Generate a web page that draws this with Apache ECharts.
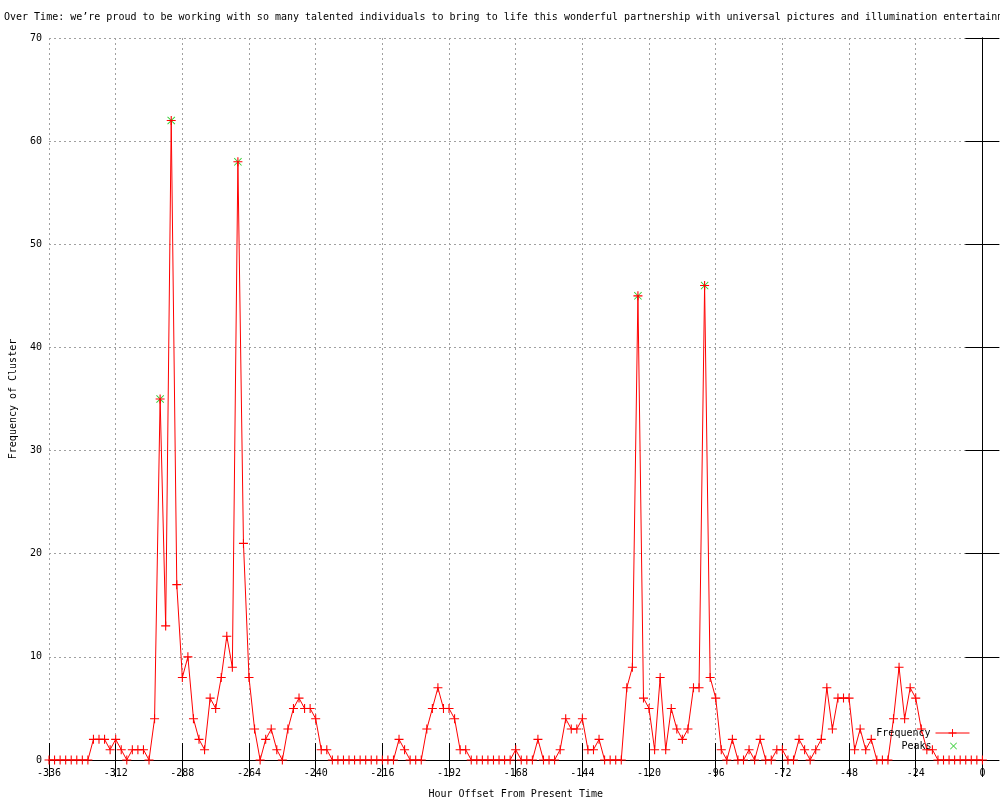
<!DOCTYPE html>
<html>
<head>
<meta charset="utf-8">
<script src="https://cdn.jsdelivr.net/npm/echarts@6/dist/echarts.min.js"></script>
<style>
html,body{margin:0;padding:0;background:#fff;}
#chart{width:1000px;height:800px;}
</style>
</head>
<body>
<div id="chart"></div>
<script>
// ---- data ----
const titleText = "Over Time: we\u2019re proud to be working with so many talented individuals to bring to life this wonderful partnership with universal pictures and illumination entertainm";
const xAxisName = "Hour Offset From Present Time";
const yAxisName = "Frequency of Cluster";
const hourStart = -336;   // first sample hour
const hourStep = 2;       // sampling interval (hours)
const frequency = [
  0,0,0,0,0,0,0,0,2,2,          // -336 .. -318
  2,1,2,1,0,1,1,1,0,4,          // -316 .. -298
  35,13,62,17,8,10,4,2,1,6,     // -296 .. -278
  5,8,12,9,58,21,8,3,0,2,       // -276 .. -258
  3,1,0,3,5,6,5,5,4,1,          // -256 .. -238
  1,0,0,0,0,0,0,0,0,0,          // -236 .. -218
  0,0,0,2,1,0,0,0,3,5,          // -216 .. -198
  7,5,5,4,1,1,0,0,0,0,          // -196 .. -178
  0,0,0,0,1,0,0,0,2,0,          // -176 .. -158
  0,0,1,4,3,3,4,1,1,2,          // -156 .. -138
  0,0,0,0,7,9,45,6,5,1,         // -136 .. -118
  8,1,5,3,2,3,7,7,46,8,         // -116 .. -98
  6,1,0,2,0,0,1,0,2,0,          // -96 .. -78
  0,1,1,0,0,2,1,0,1,2,          // -76 .. -58
  7,3,6,6,6,1,3,1,2,0,          // -56 .. -38
  0,0,4,9,4,7,6,3,1,1,          // -36 .. -18
  0,0,0,0,0,0,0,0,0             // -16 .. 0
];
const peakHours = [-296, -292, -268, -124, -100];
const peakValues = [35, 62, 58, 45, 46];
const xTicks = { min: -336, max: 0, interval: 24 };
const yTicks = { min: 0, max: 70, interval: 10 };

// ---- build ----
const freqData = frequency.map((v, i) => [hourStart + i * hourStep, v]);
const peakData = peakHours.map((h, i) => [h, peakValues[i]]);

const FONT = "DejaVu Sans Mono";
const plusPath = 'path://M4.4,0H5.6V4.4H10V5.6H5.6V10H4.4V5.6H0V4.4H4.4Z';
const crossPath = 'path://M0,0.8L0.8,0L5,4.2L9.2,0L10,0.8L5.8,5L10,9.2L9.2,10L5,5.8L0.8,10L0,9.2L4.2,5Z';
const gridLine = { show: true, lineStyle: { color: '#a0a0a0', type: [2, 3], width: 1 } };
const axisLineStyle = { show: true, lineStyle: { color: '#000', width: 1 } };
const tickStyle = { show: true, inside: true, length: 17, lineStyle: { color: '#000', width: 1 } };

const chart = echarts.init(document.getElementById('chart'), null, { renderer: 'canvas' });
chart.setOption({
  animation: false,
  backgroundColor: '#fff',
  textStyle: { fontFamily: FONT, fontSize: 10, color: '#000' },
  title: {
    text: titleText,
    left: 4, top: 12, padding: 0,
    textStyle: { fontFamily: FONT, fontSize: 10, fontWeight: 'normal', color: '#000' }
  },
  grid: { left: 49, right: 17.6, top: 38, bottom: 40, containLabel: false, outerBoundsMode: 'none' },
  legend: [
    {
      data: ['Frequency'], right: 30, top: 728, orient: 'vertical', align: 'right', padding: 0,
      itemWidth: 34, itemHeight: 10,
      lineStyle: { width: 1 },
      textStyle: { fontFamily: FONT, fontSize: 10, color: '#000' }
    },
    {
      data: ['Peaks'], right: 43, top: 741, orient: 'vertical', align: 'right', padding: 0,
      itemWidth: 34, itemHeight: 7,
      textStyle: { fontFamily: FONT, fontSize: 10, color: '#000' }
    }
  ],
  xAxis: [
    {
      type: 'value', position: 'bottom', min: xTicks.min, max: xTicks.max, interval: xTicks.interval,
      name: xAxisName, nameLocation: 'middle', nameGap: 29,
      nameTextStyle: { fontFamily: FONT, fontSize: 10, color: '#000' },
      axisLine: axisLineStyle, axisTick: tickStyle, splitLine: gridLine,
      axisLabel: { fontFamily: FONT, fontSize: 10, color: '#000', margin: 8 }
    },
    {
      type: 'value', position: 'top', min: xTicks.min, max: xTicks.max, interval: xTicks.interval,
      axisLine: axisLineStyle, axisTick: tickStyle, splitLine: { show: false },
      axisLabel: { show: false }
    }
  ],
  yAxis: [
    {
      type: 'value', position: 'left', min: yTicks.min, max: yTicks.max, interval: yTicks.interval,
      name: yAxisName, nameLocation: 'middle', nameGap: 31, nameRotate: 90,
      nameTextStyle: { fontFamily: FONT, fontSize: 10, color: '#000' },
      axisLine: axisLineStyle, axisTick: tickStyle, splitLine: gridLine,
      axisLabel: { fontFamily: FONT, fontSize: 10, color: '#000', margin: 7 }
    },
    {
      type: 'value', position: 'right', min: yTicks.min, max: yTicks.max, interval: yTicks.interval,
      axisLine: axisLineStyle, axisTick: tickStyle, splitLine: { show: false },
      axisLabel: { show: false }
    }
  ],
  series: [
    {
      name: 'Frequency', type: 'line', data: freqData,
      xAxisIndex: 0, yAxisIndex: 0,
      symbol: plusPath, symbolSize: 9, showAllSymbol: true,
      lineStyle: { color: '#ff0000', width: 1 },
      itemStyle: { color: '#ff0000', borderWidth: 0 },
      emphasis: { disabled: true }
    },
    {
      name: 'Peaks', type: 'scatter', data: peakData,
      xAxisIndex: 0, yAxisIndex: 0,
      symbol: crossPath, symbolSize: 8,
      itemStyle: { color: '#00c000', borderWidth: 0 },
      emphasis: { disabled: true }
    }
  ]
});
</script>
</body>
</html>
